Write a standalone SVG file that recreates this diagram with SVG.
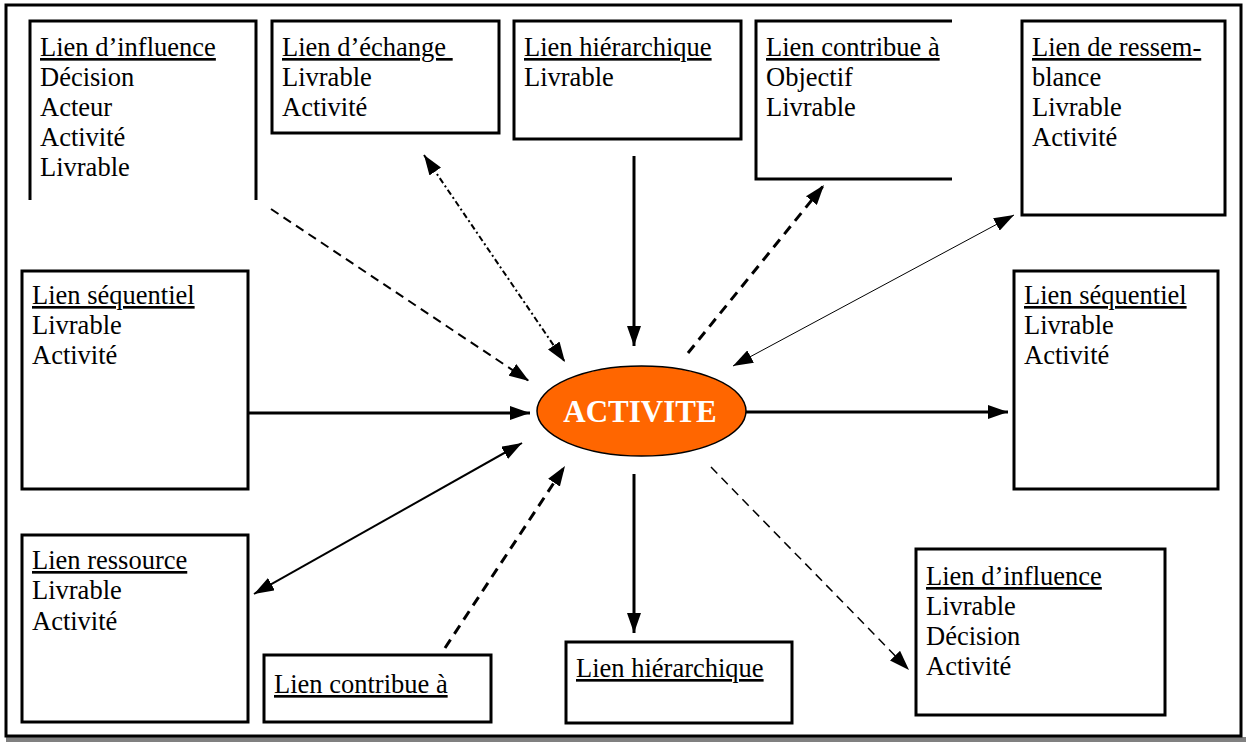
<svg xmlns="http://www.w3.org/2000/svg" width="1246" height="742" viewBox="0 0 1246 742">
<defs>
<style>
.box{fill:#fff;stroke:#000;stroke-width:3}
.open{fill:none;stroke:#000;stroke-width:3}
.t{fill:#000;white-space:pre}
.h{text-decoration:underline}
.c{fill:none;stroke:#000}
</style>
<marker id="ah" viewBox="0 0 20 14" refX="20" refY="7" markerWidth="20" markerHeight="14" markerUnits="userSpaceOnUse" orient="auto-start-reverse">
<path d="M0,0 L20,7 L0,14 z" fill="#000"/>
</marker>
</defs>
<rect x="0" y="0" width="1246" height="742" fill="#fff"/>
<rect x="6" y="737" width="1240" height="5" fill="#808080"/>
<rect id="frame" x="6" y="5" width="1235" height="731" fill="none" stroke="#000" stroke-width="3"/>

<g id="connectors">
<line class="c" x1="271" y1="209" x2="529" y2="381" stroke-width="2" stroke-dasharray="9 6" marker-end="url(#ah)"/>
<line class="c" x1="424" y1="155" x2="565" y2="362" stroke-width="2" stroke-dasharray="6 3 2 3" marker-start="url(#ah)" marker-end="url(#ah)"/>
<line class="c" x1="634" y1="156" x2="634" y2="346" stroke-width="3" marker-end="url(#ah)"/>
<line class="c" x1="688" y1="353" x2="824" y2="185" stroke-width="3" stroke-dasharray="10 7" marker-end="url(#ah)"/>
<line class="c" x1="733" y1="366" x2="1014" y2="215" stroke-width="1" marker-start="url(#ah)" marker-end="url(#ah)"/>
<line class="c" x1="248" y1="413" x2="530" y2="413" stroke-width="3" marker-end="url(#ah)"/>
<line class="c" x1="746" y1="412" x2="1008" y2="412" stroke-width="3" marker-end="url(#ah)"/>
<line class="c" x1="254" y1="594" x2="522" y2="443" stroke-width="2" marker-start="url(#ah)" marker-end="url(#ah)"/>
<line class="c" x1="445" y1="648" x2="565" y2="466" stroke-width="3" stroke-dasharray="10 7" marker-end="url(#ah)"/>
<line class="c" x1="634" y1="474" x2="634" y2="633" stroke-width="3" marker-end="url(#ah)"/>
<line class="c" x1="711" y1="467" x2="909" y2="670" stroke-width="1.5" stroke-dasharray="9 6" marker-end="url(#ah)"/>
</g>

<g id="activite">
<ellipse cx="641.5" cy="411" rx="104.5" ry="45" fill="#FF6600" stroke="#000" stroke-width="1.5"/>
<text x="640" y="422" text-anchor="middle" font-family="Liberation Serif, Times New Roman, serif" font-size="31" font-weight="bold" fill="#fff">ACTIVITE</text>
</g>

<g font-family="Liberation Serif, Times New Roman, serif" font-size="26.5">
<g id="influence-top">
<path class="open" d="M30,200 V21 H256 V200"/>
<text class="t h" x="40" y="56">Lien d’influence</text>
<text class="t" x="40" y="86">Décision</text>
<text class="t" x="40" y="116">Acteur</text>
<text class="t" x="40" y="146">Activité</text>
<text class="t" x="40" y="176">Livrable</text>
</g>

<g id="echange">
<rect class="box" x="272" y="21" width="227" height="112"/>
<text class="t h" x="282" y="56">Lien d’échange </text>
<text class="t" x="282" y="86">Livrable</text>
<text class="t" x="282" y="116">Activité</text>
</g>

<g id="hierarchique-top">
<rect class="box" x="514" y="21" width="227" height="118"/>
<text class="t h" x="524" y="56">Lien hiérarchique</text>
<text class="t" x="524" y="86">Livrable</text>
</g>

<g id="contribue-top">
<path class="open" d="M952,21 H756 V179 H952"/>
<text class="t h" x="766" y="56">Lien contribue à</text>
<text class="t" x="766" y="86">Objectif</text>
<text class="t" x="766" y="116">Livrable</text>
</g>

<g id="ressemblance">
<rect class="box" x="1022" y="21" width="203" height="194"/>
<text class="t h" x="1032" y="56">Lien de ressem-</text>
<text class="t" x="1032" y="86">blance</text>
<text class="t" x="1032" y="116">Livrable</text>
<text class="t" x="1032" y="146">Activité</text>
</g>

<g id="sequentiel-left">
<rect class="box" x="22" y="271" width="226" height="218"/>
<text class="t h" x="32" y="304">Lien séquentiel</text>
<text class="t" x="32" y="334">Livrable</text>
<text class="t" x="32" y="364">Activité</text>
</g>

<g id="sequentiel-right">
<rect class="box" x="1014" y="271" width="204" height="218"/>
<text class="t h" x="1024" y="304">Lien séquentiel</text>
<text class="t" x="1024" y="334">Livrable</text>
<text class="t" x="1024" y="364">Activité</text>
</g>

<g id="ressource">
<rect class="box" x="22" y="535" width="226" height="187"/>
<text class="t h" x="32" y="569">Lien ressource</text>
<text class="t" x="32" y="599">Livrable</text>
<text class="t" x="32" y="630">Activité</text>
</g>

<g id="contribue-bottom">
<rect class="box" x="264" y="655" width="227" height="67"/>
<text class="t h" x="274" y="693">Lien contribue à</text>
</g>

<g id="hierarchique-bottom">
<rect class="box" x="566" y="642" width="226" height="81"/>
<text class="t h" x="576" y="677">Lien hiérarchique</text>
</g>

<g id="influence-bottom">
<rect class="box" x="916" y="549" width="249" height="166"/>
<text class="t h" x="926" y="585">Lien d’influence</text>
<text class="t" x="926" y="615">Livrable</text>
<text class="t" x="926" y="645">Décision</text>
<text class="t" x="926" y="675">Activité</text>
</g>
</g>
</svg>
